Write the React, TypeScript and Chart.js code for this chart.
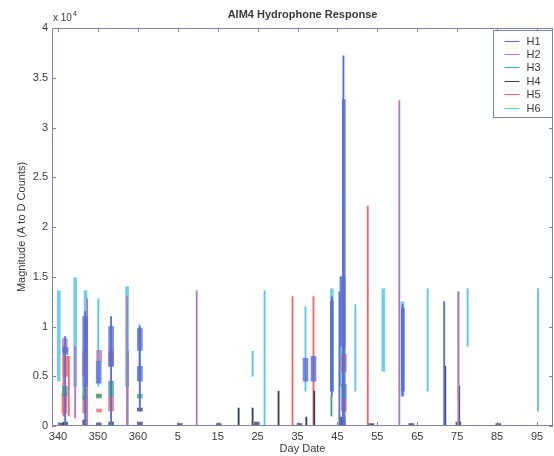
import React, { useEffect, useRef } from 'react';
import { Chart, registerables } from 'chart.js';

Chart.register(...registerables);

// [day index, low, high] in A to D counts; day index continues past 365 (370 = day 5)
type Seg = [number, number, number];

const TITLE = 'AIM4 Hydrophone Response';
const SERIES_NAMES = ['H1', 'H2', 'H3', 'H4', 'H5', 'H6'];
const SERIES_COLORS = ['#5a6ed8', '#b07cc0', '#3aa97e', '#3c4256', '#f0666c', '#5cc6ea'];

const X_TICKS = [340, 350, 360, 370, 380, 390, 400, 410, 420, 430, 440, 450, 460];
const X_TICK_LABELS = ['340', '350', '360', '5', '15', '25', '35', '45', '55', '65', '75', '85', '95'];
const Y_TICKS = [0, 5000, 10000, 15000, 20000, 25000, 30000, 35000, 40000];
const Y_TICK_LABELS = ['0', '0.5', '1', '1.5', '2', '2.5', '3', '3.5', '4'];

const H1_LINES: Seg[] = [[341.8, 0, 9000], [346.8, 0, 11500], [353.3, 0, 11000], [360.5, 1500, 10000], [408.6, 3000, 13000], [410.5, 0, 13500], [411.5, 0, 37200], [426.3, 3000, 12200], [436.75, 0, 12500]];
const H1_BANDS: Seg[] = [[411.6, 0, 32800], [408.6, 3500, 12500], [426.4, 3500, 11800]];
const H1_BLOCKS: Seg[] = [[341.9, 7200, 7900], [346.8, 4000, 11000], [350.2, 4300, 6500], [353.3, 6000, 10000], [360.5, 7600, 9800], [360.5, 4500, 6000], [402, 4500, 6800], [404, 4500, 7000], [411.3, 8000, 15000]];

const H2_LINES: Seg[] = [[344.3, 800, 8000], [347.3, 0, 12800], [357.3, 0, 13000], [374.75, 0, 13600], [425.5, 0, 32700], [440.3, 0, 13500]];
const H2_BANDS: Seg[] = [];
const H2_BLOCKS: Seg[] = [[341.7, 7500, 8800], [350.3, 6500, 7600]];

const H3_LINES: Seg[] = [[408.5, 1000, 3000]];
const H3_BANDS: Seg[] = [];
const H3_BLOCKS: Seg[] = [[341.7, 3000, 4000], [346.8, 2700, 4000], [350.2, 2800, 3200], [353.3, 3000, 4500], [360.5, 2800, 3200], [411.6, 2800, 4200]];

const H4_LINES: Seg[] = [[357.4, 0, 7500], [385.25, 0, 1800], [388.75, 0, 1800], [395.25, 0, 3500], [402.2, 0, 900], [404.2, 0, 3500], [437, 0, 6000], [440.5, 0, 4000]];
const H4_BANDS: Seg[] = [];
const H4_BLOCKS: Seg[] = [[340.8, 0, 300], [341.8, 0, 400], [346.8, 0, 600], [350.2, 0, 300], [353.3, 0, 400], [360.5, 0, 400], [360.5, 1500, 1800], [370.5, 0, 250], [380.25, 0, 250], [389.8, 0, 400], [400.5, 0, 250], [411.3, 0, 900], [418.5, 0, 250], [428.5, 0, 250], [440.3, 0, 400], [450.3, 0, 250]];

const H5_LINES: Seg[] = [[341.4, 1000, 8000], [342.7, 1000, 7000], [398.75, 0, 13000], [404, 0, 13000], [417.6, 0, 22100]];
const H5_BANDS: Seg[] = [];
const H5_BLOCKS: Seg[] = [[341.6, 1300, 3300], [346.8, 1300, 3000], [353.3, 1500, 3000], [341.8, 5000, 7000], [346.8, 5000, 7500], [353.3, 6000, 7500], [411.6, 1500, 2800], [411.6, 5500, 7200], [350.3, 1400, 1700], [350.3, 2900, 3200]];

const H6_LINES: Seg[] = [[350.1, 4000, 12800], [360.4, 5000, 10200], [388.75, 5000, 7500], [391.75, 0, 13600], [402, 3500, 12000], [414.5, 3500, 12200], [432.6, 3500, 13800], [440.3, 2500, 13500], [442.6, 8000, 13800], [460.25, 1500, 13800]];
const H6_BANDS: Seg[] = [[340.2, 4500, 13600], [344.3, 4000, 14900], [346.9, 7500, 13600], [357.3, 4000, 14000], [408.6, 3500, 13800], [411, 4000, 15000], [426.3, 3000, 12500], [421.5, 5500, 13800]];
const H6_BLOCKS: Seg[] = [];

const SERIES_SEGS: Seg[][][] = [
  [H1_LINES, H1_BANDS, H1_BLOCKS],
  [H2_LINES, H2_BANDS, H2_BLOCKS],
  [H3_LINES, H3_BANDS, H3_BLOCKS],
  [H4_LINES, H4_BANDS, H4_BLOCKS],
  [H5_LINES, H5_BANDS, H5_BLOCKS],
  [H6_LINES, H6_BANDS, H6_BLOCKS],
];

const THICKNESS = [1.2, 3, 5];
const ALPHA = ['ff', 'dd', 'cc'];
const AXIS_COLOR = '#7d84a6';
const TEXT_COLOR = '#3a3a3a';
const FONT = '"Liberation Sans", Arial, sans-serif';

const boxPlugin = {
  id: 'matlabBox',
  afterDatasetsDraw(chart: any) {
    const { ctx, chartArea: a, scales } = chart;
    const xs = scales.x;
    const ys = scales.y;
    const T = 4;
    ctx.save();
    ctx.strokeStyle = AXIS_COLOR;
    ctx.lineWidth = 1;
    ctx.strokeRect(Math.round(a.left) + 0.5, Math.round(a.top) + 0.5, Math.round(a.right - a.left) - 1, Math.round(a.bottom - a.top) - 1);
    ctx.beginPath();
    for (const v of X_TICKS) {
      const px = Math.round(xs.getPixelForValue(v)) + 0.5;
      ctx.moveTo(px, a.top); ctx.lineTo(px, a.top + T);
      ctx.moveTo(px, a.bottom); ctx.lineTo(px, a.bottom - T);
    }
    for (const v of Y_TICKS) {
      const py = Math.round(ys.getPixelForValue(v)) + 0.5;
      ctx.moveTo(a.left, py); ctx.lineTo(a.left + T, py);
      ctx.moveTo(a.right, py); ctx.lineTo(a.right - T, py);
    }
    ctx.stroke();

    // title, centred over the axes
    ctx.fillStyle = TEXT_COLOR;
    ctx.textAlign = 'center';
    ctx.textBaseline = 'middle';
    ctx.font = `bold 11px ${FONT}`;
    ctx.fillText(TITLE, (a.left + a.right) / 2, 15);

    // exponent label
    ctx.textBaseline = 'alphabetic';
    ctx.textAlign = 'left';
    ctx.font = `10px ${FONT}`;
    ctx.fillText('x 10', a.left + 1, a.top - 7);
    const w = ctx.measureText('x 10').width;
    ctx.font = `7px ${FONT}`;
    ctx.fillText('4', a.left + 2 + w, a.top - 12);

    // legend
    const lw = 59, lh = 87;
    const lx = Math.round(a.right) - lw - 0.5;
    const ly = Math.round(a.top) + 2.5;
    ctx.fillStyle = '#ffffff';
    ctx.fillRect(lx, ly, lw, lh);
    ctx.strokeStyle = AXIS_COLOR;
    ctx.strokeRect(lx, ly, lw, lh);
    ctx.font = `11px ${FONT}`;
    ctx.textBaseline = 'middle';
    SERIES_NAMES.forEach((name, i) => {
      const yy = Math.round(ly + 10 + i * 13.4) + 0.5;
      ctx.strokeStyle = SERIES_COLORS[i];
      ctx.lineWidth = 1;
      ctx.beginPath();
      ctx.moveTo(lx + 11, yy); ctx.lineTo(lx + 26, yy);
      ctx.stroke();
      ctx.fillStyle = TEXT_COLOR;
      ctx.fillText(name, lx + 33, yy);
    });
    ctx.restore();
  },
};

export default function App() {
  const ref = useRef<HTMLCanvasElement | null>(null);
  useEffect(() => {
    if (!ref.current) return;
    const datasets: any[] = [];
    SERIES_NAMES.forEach((name, i) => {
      SERIES_SEGS[i].forEach((segs, k) => {
        datasets.push({
          type: 'bar',
          label: k === 0 ? name : `${name}-${k}`,
          data: segs.map(([d, lo, hi]) => ({ x: d, y: [lo, hi] })),
          backgroundColor: SERIES_COLORS[i] + ALPHA[k],
          borderWidth: 0,
          barThickness: THICKNESS[k],
          grouped: false,
        });
      });
    });
    const chart = new Chart(ref.current, {
      type: 'bar',
      data: { datasets },
      plugins: [boxPlugin],
      options: {
        responsive: false,
        animation: false,
        devicePixelRatio: 1,
        layout: { padding: { left: 0, right: 1, top: 28, bottom: 0 } },
        plugins: {
          legend: { display: false },
          tooltip: { enabled: false },
          title: { display: false },
        },
        scales: {
          x: {
            type: 'linear',
            offset: false,
            min: 338.5,
            max: 464,
            grid: { display: false, drawTicks: false, offset: false },
            border: { display: false },
            afterBuildTicks: (s: any) => { s.ticks = X_TICKS.map((v) => ({ value: v })); },
            afterFit: (s: any) => { s.height = 30; },
            ticks: {
              autoSkip: false,
              maxRotation: 0,
              padding: 4,
              color: TEXT_COLOR,
              font: { family: FONT, size: 11 },
              callback: (v: any) => { const i = X_TICKS.indexOf(Number(v)); return i >= 0 ? X_TICK_LABELS[i] : ''; },
            },
            title: {
              display: true,
              text: 'Day Date',
              color: TEXT_COLOR,
              font: { family: FONT, size: 11 },
              padding: { top: 0, bottom: 0 },
            },
          },
          y: {
            type: 'linear',
            min: 0,
            max: 40000,
            grid: { display: false, drawTicks: false },
            border: { display: false },
            afterBuildTicks: (s: any) => { s.ticks = Y_TICKS.map((v) => ({ value: v })); },
            afterFit: (s: any) => { s.width = 52; },
            ticks: {
              padding: 4,
              color: TEXT_COLOR,
              font: { family: FONT, size: 11 },
              callback: (v: any) => { const i = Y_TICKS.indexOf(Number(v)); return i >= 0 ? Y_TICK_LABELS[i] : ''; },
            },
            title: {
              display: true,
              text: 'Magnitude (A to D Counts)',
              color: TEXT_COLOR,
              font: { family: FONT, size: 11 },
              padding: { top: 15, bottom: 0 },
            },
          },
        },
      },
    });
    return () => chart.destroy();
  }, []);
  return (
    <div style={{ position: 'absolute', left: 0, top: 0, width: 554, height: 456, background: '#fff' }}>
      <canvas ref={ref} width={554} height={456} style={{ display: 'block' }} />
    </div>
  );
}
